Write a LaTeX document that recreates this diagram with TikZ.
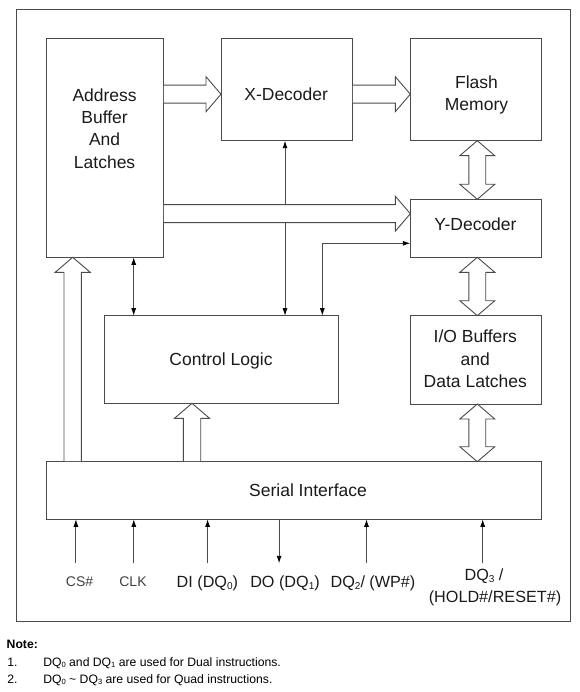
\documentclass[tikz,border=0pt]{standalone}
\usepackage{fontspec}
\setmainfont{Liberation Sans}
\usetikzlibrary{arrows.meta,calc}
\definecolor{linec}{HTML}{4A4A4A}
\definecolor{txtc}{HTML}{1A1A1A}
\newcommand{\sbx}[1]{\raisebox{-0.2ex}{\scalebox{0.62}{#1}}}
% hollow arrow pointing right: tail x, tip x, centre y
\newcommand{\hollowright}[3]{%
  \filldraw[harrow] (#1+0.5,#3-9) -- (#2-15,#3-9) -- (#2-15,#3-17.5) -- (#2,#3)
    -- (#2-15,#3+17.5) -- (#2-15,#3+9) -- (#1+0.5,#3+9);}
% hollow arrow pointing up: centre x, tip y, tail y
\newcommand{\hollowup}[3]{%
  \filldraw[harrow] (#1-8.7,#3-0.5) -- (#1-8.7,#2+15) -- (#1-17.5,#2+15) -- (#1,#2)
    -- (#1+17.5,#2+15) -- (#1+8.7,#2+15) -- (#1+8.7,#3-0.5);}
% hollow double arrow, vertical: centre x, top tip y, bottom tip y
\newcommand{\hollowud}[3]{%
  \filldraw[harrow] (#1,#2) -- (#1+17.5,#2+15) -- (#1+8.4,#2+15) -- (#1+8.4,#3-15)
    -- (#1+17.5,#3-15) -- (#1,#3) -- (#1-17.5,#3-15) -- (#1-8.4,#3-15)
    -- (#1-8.4,#2+15) -- (#1-17.5,#2+15) -- cycle;}
\begin{document}
\begin{tikzpicture}[x=1pt,y=-1pt,
  box/.style={draw=linec, line width=0.9pt, inner sep=0pt, outer sep=0pt, anchor=north west},
  txt/.style={inner sep=0pt, outer sep=0pt, text=txtc, align=center,
              font=\fontsize{17.5}{22.3}\selectfont},
  pinlbl/.style={inner sep=0pt, outer sep=0pt, text=txtc, anchor=base,
              font=\fontsize{16.2}{19}\selectfont},
  pinlbls/.style={inner sep=0pt, outer sep=0pt, text=black!75, anchor=base,
              font=\fontsize{14}{17}\selectfont},
  note/.style={inner sep=0pt, outer sep=0pt, text=black, anchor=base west,
              font=\fontsize{12.2}{14}\selectfont},
  conn/.style={draw=linec, line width=0.9pt},
  harrow/.style={draw=linec, line width=0.9pt, fill=white, line join=miter},
  >={Latex[length=7.5pt,width=5pt,color=black]}]
\useasboundingbox (0,0) rectangle (579,692);

% outer frame
\node[box, minimum width=553.7pt, minimum height=612.4pt] (frame) at (16.8,9.3) {};

% blocks
\node[box, minimum width=117.3pt, minimum height=218.6pt] (addr) at (46,38.7) {};
\node[box, minimum width=131.3pt, minimum height=102pt] (xdec) at (221,38.7) {};
\node[box, minimum width=131pt, minimum height=102pt] (flash) at (410.3,38.7) {};
\node[box, minimum width=131pt, minimum height=58pt] (ydec) at (410.3,199.3) {};
\node[box, minimum width=233.3pt, minimum height=87.6pt] (ctrl) at (104.7,315.7) {};
\node[box, minimum width=131pt, minimum height=88.3pt] (io) at (410.3,315.7) {};
\node[box, minimum width=495.3pt, minimum height=57.6pt] (serial) at (46,461.7) {};

% block texts
\node[txt] (addrtxt) at (104.6,128.4) {Address\\Buffer\\And\\Latches};
\node[txt] (xdectxt) at (286.2,94.5) {X-Decoder};
\node[txt] (flashtxt) at (476.5,95.1) {Flash\\Memory};
\node[txt] (ydectxt) at (475.5,224.3) {Y-Decoder};
\node[txt] (ctrltxt) at (221,360.9) {Control Logic};
\node[txt] (iotxt) at (475.3,358.9) {I/O Buffers\\and\\Data Latches};
\node[txt] (serialtxt) at (308,490) {Serial Interface};

% thin connectors
\draw[conn,<->] ($(ctrl.north west)+(180.3,0)$) -- ($(xdec.south west)+(64,0)$);
\draw[conn,<->] ($(addr.south west)+(87.7,0)$) -- ($(ctrl.north west)+(29,0)$);
\coordinate (yin) at ($(ydec.south west)+(0,-14)$);
\draw[conn,<->] ($(ctrl.north west)+(217.6,0)$) |- (yin);

% hollow (bus) arrows
\hollowright{163.3}{221}{94.2}
\hollowright{352.3}{410.3}{94.2}
\hollowright{163.3}{410.3}{213.7}
\hollowup{72.7}{257.3}{461.7}
\hollowup{192}{403.3}{461.7}
\hollowud{477.3}{140.7}{199.3}
\hollowud{477.3}{257.3}{315.7}
\hollowud{477.3}{404}{461.7}

% pins
\foreach \n/\x in {cs/75.9, clk/133.8, di/207.6, dqb/366.5, dqc/482.7}{
  \coordinate (p\n) at (\x,563.3);
  \draw[conn,->] (p\n) -- (p\n |- serial.south);
}
\coordinate (pdo) at (279.1,563.3);
\draw[conn,->] (pdo |- serial.south) -- (pdo);

% pin labels
\node[pinlbls] (lcs) at (79.6,586.7) {CS\#};
\node[pinlbls] (lclk) at (133,586.7) {CLK};
\node[pinlbl] (ldi) at (207.4,587.5) {DI (DQ\sbx{0})};
\node[pinlbl] (ldo) at (285,587.5) {DO (DQ\sbx{1})};
\node[pinlbl] (ldqb) at (373,587.5) {DQ\sbx{2}/ (WP\#)};
\node[pinlbl] (ldqc) at (484,580.8) {DQ\sbx{3} /};
\node[pinlbl] (lhold) at (495,602.5) {(HOLD\#/RESET\#)};

% notes
\node[note, font=\fontsize{12.2}{14}\selectfont\bfseries] (notehd) at (6.7,648.3) {Note:};
\node[note] (n1) at (7.3,666.6) {1.};
\node[note] (n1t) at (43.3,666.6) {DQ\sbx{0} and DQ\sbx{1} are used for Dual instructions.};
\node[note] (n2) at (7.3,683.6) {2.};
\node[note] (n2t) at (43.3,683.6) {DQ\sbx{0} \textasciitilde{} DQ\sbx{3} are used for Quad instructions.};
\end{tikzpicture}
\end{document}
